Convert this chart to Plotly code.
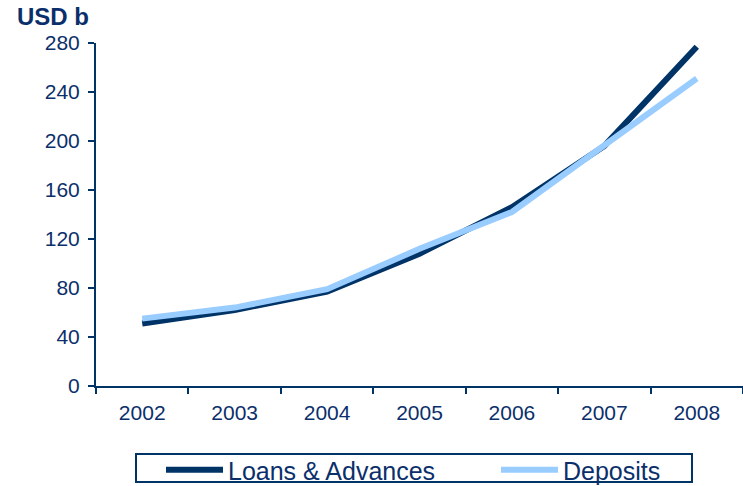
import plotly.graph_objects as go

years = ["2002", "2003", "2004", "2005", "2006", "2007", "2008"]
loans = [51, 62, 77, 108, 146, 196, 277]
deposits = [55, 64, 79, 112, 142, 196, 251]
y_ticks = [0, 40, 80, 120, 160, 200, 240, 280]

NAVY = "#003366"
LIGHT = "#99CCFF"
TXT = "#0B2F6B"

PL, PW, PT, PH = 96, 647, 43, 343  # plot area in px


def px_x(px):
    return (px - PL) / PW


def px_y(py):
    return 1 - (py - PT) / PH


fig = go.Figure()
fig.add_trace(go.Scatter(x=years, y=loans, mode="lines", name="Loans & Advances",
                         line=dict(color=NAVY, width=6), legend="legend"))
fig.add_trace(go.Scatter(x=years, y=deposits, mode="lines", name="Deposits",
                         line=dict(color=LIGHT, width=6), legend="legend2"))

leg_common = dict(orientation="h", xanchor="left", y=px_y(470), yanchor="middle",
                  borderwidth=0, bgcolor="rgba(0,0,0,0)",
                  font=dict(size=25, color=TXT), itemwidth=57)

fig.update_layout(
    width=743, height=486,
    margin=dict(l=PL, r=743 - PL - PW, t=PT, b=486 - PT - PH, autoexpand=False),
    paper_bgcolor="white", plot_bgcolor="white",
    font=dict(family="Liberation Sans, Arial, sans-serif", color=TXT, size=21),
    xaxis=dict(type="category", range=[-0.5, 6.5], showgrid=False, zeroline=False,
               showline=True, linecolor=NAVY, linewidth=2,
               ticks="outside", ticklen=6, tickcolor=NAVY, tickwidth=2,
               tickson="boundaries", tickfont=dict(size=21, color=TXT),
               ticklabelstandoff=7),
    yaxis=dict(range=[0, 280], tickvals=y_ticks, showgrid=False, zeroline=False,
               showline=True, linecolor=NAVY, linewidth=2,
               ticks="outside", ticklen=6, tickcolor=NAVY, tickwidth=2,
               tickfont=dict(size=21, color=TXT), ticklabelstandoff=4),
    showlegend=True,
    legend=dict(x=px_x(161), **leg_common),
    legend2=dict(x=px_x(496), **leg_common),
    shapes=[dict(type="rect", xref="paper", yref="paper",
                 x0=px_x(136), x1=px_x(692), y0=px_y(482), y1=px_y(454),
                 line=dict(color=NAVY, width=2), fillcolor="rgba(0,0,0,0)", layer="below")],
    annotations=[dict(text="<b>USD b</b>", xref="paper", yref="paper",
                      x=px_x(15), y=px_y(1),
                      xanchor="left", yanchor="top", showarrow=False,
                      font=dict(size=24, color=TXT))],
)

fig.write_html("out.html")
